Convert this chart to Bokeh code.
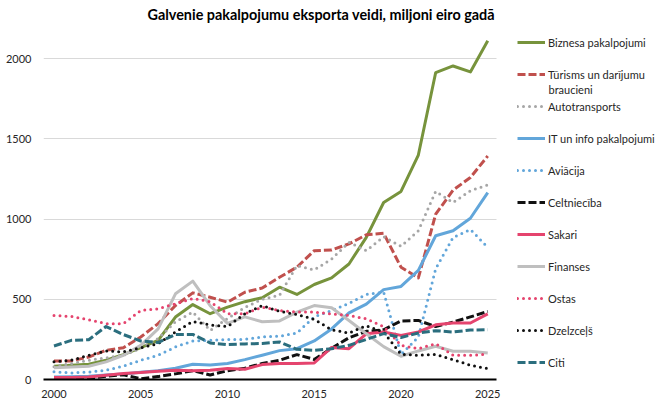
from bokeh.plotting import figure
from bokeh.models import Range1d, FixedTicker, Legend, LegendItem, Label
from bokeh.embed import file_html
from bokeh.resources import INLINE

title = "Galvenie pakalpojumu eksporta veidi, miljoni eiro gadā"
years = list(range(2000, 2026))
x_ticks = [2000, 2005, 2010, 2015, 2020, 2025]
y_ticks = [0, 500, 1000, 1500, 2000]

biznesa = [82, 89, 95, 120, 155, 198, 244, 389, 467, 410, 451, 485, 510, 575, 530, 592, 633, 720, 886, 1103, 1172, 1399, 1913, 1954, 1917, 2111]
turisms = [116, 116, 140, 182, 198, 265, 348, 461, 540, 513, 482, 544, 570, 637, 700, 803, 807, 845, 902, 911, 700, 633, 1030, 1180, 1259, 1393]
autotransports = [80, 100, 120, 135, 150, 195, 255, 360, 420, 306, 380, 450, 500, 525, 710, 683, 751, 855, 803, 890, 830, 927, 1172, 1103, 1176, 1213]
it_info = [15, 17, 20, 28, 35, 45, 55, 70, 95, 90, 100, 124, 151, 180, 192, 240, 315, 415, 470, 560, 580, 680, 896, 927, 1005, 1165]
aviacija = [48, 41, 46, 58, 83, 120, 151, 203, 240, 244, 250, 250, 265, 270, 290, 390, 430, 475, 530, 545, 155, 265, 690, 885, 935, 824]
celtnieciba = [5, 5, 8, 20, 30, 5, 18, 35, 55, 28, 55, 70, 100, 120, 155, 125, 195, 260, 300, 310, 365, 368, 330, 358, 390, 424]
sakari = [12, 12, 16, 27, 37, 43, 52, 58, 54, 58, 68, 64, 93, 99, 99, 103, 200, 192, 285, 296, 275, 296, 341, 352, 352, 409]
finanses = [74, 78, 83, 110, 151, 213, 316, 534, 613, 460, 350, 390, 360, 365, 420, 461, 447, 368, 285, 205, 145, 178, 207, 176, 176, 165]
ostas = [399, 393, 372, 348, 348, 430, 441, 472, 505, 485, 410, 409, 451, 430, 420, 420, 409, 399, 378, 330, 213, 192, 223, 151, 151, 157]
dzelzcels = [110, 120, 151, 178, 172, 198, 223, 296, 362, 340, 330, 410, 460, 425, 405, 375, 310, 290, 335, 295, 157, 151, 157, 124, 89, 68]
citi = [209, 244, 248, 330, 280, 240, 230, 281, 281, 228, 217, 222, 224, 234, 188, 182, 192, 213, 250, 286, 262, 290, 304, 296, 308, 310]

names = ["Biznesa pakalpojumi", "Tūrisms un darījumu", "Autotransports",
         "IT un info pakalpojumi", "Aviācija", "Celtniecība", "Sakari", "Finanses",
         "Ostas", "Dzelzceļš", "Citi"]
name_wrap = "braucieni"
values = [biznesa, turisms, autotransports, it_info, aviacija, celtnieciba, sakari,
          finanses, ostas, dzelzcels, citi]
colors = ["#77933C", "#C0504D", "#A6A6A6", "#62A6DA", "#62A6DA", "#111111", "#E5446E",
          "#BFBFBF", "#E5446E", "#111111", "#2B6E7E"]
styles = ["solid", "dash", "dot", "solid", "dot", "dash", "solid", "solid", "dot", "dot", "dash"]

FONT = "Lato"
W, H = 664, 406
LEFT, TOP, BOTTOM = 43, 25, 27
PX_PER_YEAR = 17.35
X0 = 2000 - 10.5 / PX_PER_YEAR
X_AXIS_END = 2025.48
X_END = X0 + (W - LEFT) / PX_PER_YEAR
Y_END = 2200

p = figure(width=W, height=H, output_backend="svg", toolbar_location=None,
           x_range=Range1d(X0, X_END), y_range=Range1d(0, Y_END),
           min_border_left=LEFT, min_border_right=0, min_border_top=TOP,
           min_border_bottom=BOTTOM)
p.outline_line_color = None
p.background_fill_color = "white"
p.xgrid.visible = False
p.ygrid.ticker = FixedTicker(ticks=y_ticks)
p.ygrid.grid_line_color = "#D9D9D9"
p.ygrid.grid_line_width = 1
if "cross_bounds" in p.ygrid[0].properties():
    p.ygrid.cross_bounds = (X0, X_AXIS_END)

p.title.text = title
p.title.align = "left"
p.title.offset = 104
p.title.standoff = 7
p.title.text_font = FONT
p.title.text_font_style = "bold"
p.title.text_font_size = "14.4px"
p.title.text_color = "black"

p.xaxis.ticker = FixedTicker(ticks=x_ticks)
p.xaxis.bounds = (X0, X_AXIS_END)
p.xaxis.axis_line_color = "black"
p.xaxis.axis_line_width = 2
p.xaxis.major_label_standoff = 10
p.yaxis.ticker = FixedTicker(ticks=y_ticks)
p.yaxis.axis_line_color = None
p.yaxis.major_label_standoff = 12
for ax in (p.xaxis, p.yaxis):
    ax.major_tick_line_color = None
    ax.minor_tick_line_color = None
    ax.major_tick_out = 0
    ax.major_tick_in = 0
    ax.minor_tick_out = 0
    ax.minor_tick_in = 0
    ax.major_label_text_font = FONT
    ax.major_label_text_font_size = "11px"
    ax.major_label_text_color = "#262626"

items = []
for name, vals, col, st in zip(names, values, colors, styles):
    kw = dict(line_width=3, line_color=col, line_join="round")
    if st == "dash":
        kw.update(line_dash="8 3")
    elif st == "dot":
        kw.update(line_dash="0 6", line_cap="round")
    r = p.line(years, vals, **kw)
    items.append(LegendItem(label=name, renderers=[r]))

legend = Legend(items=items, location=(474, 7), padding=0, margin=0, spacing=12,
                label_height=20, glyph_height=20, glyph_width=28, label_standoff=3,
                border_line_color=None, background_fill_alpha=0,
                label_text_font=FONT, label_text_font_size="11px",
                label_text_color="#262626")
p.add_layout(legend)

# second line of the wrapped legend label
p.add_layout(Label(x=X0 + (548 - LEFT) / PX_PER_YEAR, y=(379 - 88) / 0.161,
                   text=name_wrap, text_baseline="middle", text_align="left",
                   text_font=FONT, text_font_size="11px", text_color="#262626"))

open("out.html", "w").write(file_html(p, INLINE))
